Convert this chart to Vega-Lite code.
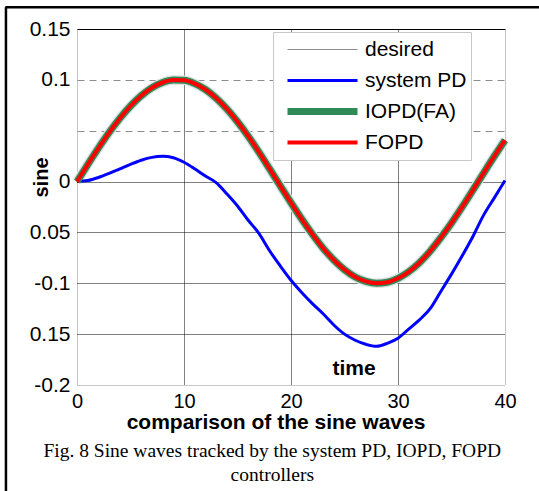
{
  "$schema": "https://vega.github.io/schema/vega-lite/v6.json",
  "width": 428,
  "height": 356,
  "autosize": "none",
  "padding": {"left": 77, "top": 29, "right": 34, "bottom": 106},
  "background": "white",
  "title": {
    "text": ["Fig. 8 Sine waves tracked by the system PD, IOPD, FOPD", "controllers"],
    "orient": "bottom",
    "anchor": "middle",
    "frame": "bounds",
    "font": "Liberation Serif",
    "fontSize": 19.5,
    "fontWeight": "normal",
    "color": "black",
    "lineHeight": 24,
    "baseline": "alphabetic",
    "offset": -41
  },
  "data": {
    "values": [
      {"t": 0, "desired": 0, "system PD": 0, "IOPD(FA)": 0, "FOPD": 0},
      {"t": 1, "desired": 0.0167, "system PD": 0.001, "IOPD(FA)": 0.0167, "FOPD": 0.0167},
      {"t": 2, "desired": 0.0329, "system PD": 0.004, "IOPD(FA)": 0.0329, "FOPD": 0.0329},
      {"t": 3, "desired": 0.0482, "system PD": 0.008, "IOPD(FA)": 0.0482, "FOPD": 0.0482},
      {"t": 4, "desired": 0.0621, "system PD": 0.0125, "IOPD(FA)": 0.0621, "FOPD": 0.0621},
      {"t": 5, "desired": 0.0743, "system PD": 0.017, "IOPD(FA)": 0.0743, "FOPD": 0.0743},
      {"t": 6, "desired": 0.0844, "system PD": 0.021, "IOPD(FA)": 0.0844, "FOPD": 0.0844},
      {"t": 7, "desired": 0.0922, "system PD": 0.0238, "IOPD(FA)": 0.0922, "FOPD": 0.0922},
      {"t": 8, "desired": 0.0974, "system PD": 0.0248, "IOPD(FA)": 0.0974, "FOPD": 0.0974},
      {"t": 9, "desired": 0.0998, "system PD": 0.0235, "IOPD(FA)": 0.0998, "FOPD": 0.0998},
      {"t": 10, "desired": 0.0995, "system PD": 0.019, "IOPD(FA)": 0.0995, "FOPD": 0.0995},
      {"t": 11, "desired": 0.0963, "system PD": 0.0125, "IOPD(FA)": 0.0963, "FOPD": 0.0963},
      {"t": 12, "desired": 0.0905, "system PD": 0.0055, "IOPD(FA)": 0.0905, "FOPD": 0.0905},
      {"t": 13, "desired": 0.0821, "system PD": -0.001, "IOPD(FA)": 0.0821, "FOPD": 0.0821},
      {"t": 14, "desired": 0.0714, "system PD": -0.012, "IOPD(FA)": 0.0714, "FOPD": 0.0714},
      {"t": 15, "desired": 0.0588, "system PD": -0.024, "IOPD(FA)": 0.0588, "FOPD": 0.0588},
      {"t": 16, "desired": 0.0446, "system PD": -0.038, "IOPD(FA)": 0.0446, "FOPD": 0.0446},
      {"t": 17, "desired": 0.029, "system PD": -0.051, "IOPD(FA)": 0.029, "FOPD": 0.029},
      {"t": 18, "desired": 0.0125, "system PD": -0.068, "IOPD(FA)": 0.0125, "FOPD": 0.0125},
      {"t": 19, "desired": -0.0042, "system PD": -0.083, "IOPD(FA)": -0.0042, "FOPD": -0.0042},
      {"t": 20, "desired": -0.0208, "system PD": -0.097, "IOPD(FA)": -0.0208, "FOPD": -0.0208},
      {"t": 21, "desired": -0.0368, "system PD": -0.109, "IOPD(FA)": -0.0368, "FOPD": -0.0368},
      {"t": 22, "desired": -0.0518, "system PD": -0.12, "IOPD(FA)": -0.0518, "FOPD": -0.0518},
      {"t": 23, "desired": -0.0655, "system PD": -0.13, "IOPD(FA)": -0.0655, "FOPD": -0.0655},
      {"t": 24, "desired": -0.0771, "system PD": -0.141, "IOPD(FA)": -0.0771, "FOPD": -0.0771},
      {"t": 25, "desired": -0.0866, "system PD": -0.15, "IOPD(FA)": -0.0866, "FOPD": -0.0866},
      {"t": 26, "desired": -0.0938, "system PD": -0.156, "IOPD(FA)": -0.0938, "FOPD": -0.0938},
      {"t": 27, "desired": -0.0982, "system PD": -0.16, "IOPD(FA)": -0.0982, "FOPD": -0.0982},
      {"t": 28, "desired": -0.1, "system PD": -0.162, "IOPD(FA)": -0.1, "FOPD": -0.1},
      {"t": 29, "desired": -0.099, "system PD": -0.159, "IOPD(FA)": -0.099, "FOPD": -0.099},
      {"t": 30, "desired": -0.0951, "system PD": -0.154, "IOPD(FA)": -0.0951, "FOPD": -0.0951},
      {"t": 31, "desired": -0.0887, "system PD": -0.145, "IOPD(FA)": -0.0887, "FOPD": -0.0887},
      {"t": 32, "desired": -0.0798, "system PD": -0.136, "IOPD(FA)": -0.0798, "FOPD": -0.0798},
      {"t": 33, "desired": -0.0685, "system PD": -0.125, "IOPD(FA)": -0.0685, "FOPD": -0.0685},
      {"t": 34, "desired": -0.0552, "system PD": -0.108, "IOPD(FA)": -0.0552, "FOPD": -0.0552},
      {"t": 35, "desired": -0.0407, "system PD": -0.091, "IOPD(FA)": -0.0407, "FOPD": -0.0407},
      {"t": 36, "desired": -0.0249, "system PD": -0.073, "IOPD(FA)": -0.0249, "FOPD": -0.0249},
      {"t": 37, "desired": -0.0084, "system PD": -0.054, "IOPD(FA)": -0.0084, "FOPD": -0.0084},
      {"t": 38, "desired": 0.0084, "system PD": -0.033, "IOPD(FA)": 0.0084, "FOPD": 0.0084},
      {"t": 39, "desired": 0.0249, "system PD": -0.016, "IOPD(FA)": 0.0249, "FOPD": 0.0249},
      {"t": 40, "desired": 0.0407, "system PD": 0.001, "IOPD(FA)": 0.0407, "FOPD": 0.0407}
    ]
  },
  "layer": [
    {
      "mark": {"type": "line", "color": "#dedede", "strokeWidth": 9.5, "interpolate": "monotone"},
      "encoding": {
        "x": {
          "field": "t", "type": "quantitative",
          "scale": {"domain": [0, 40], "nice": false, "zero": false},
          "axis": {
            "title": "comparison of the sine waves",
            "values": [0, 10, 20, 30, 40],
            "format": "d",
            "labelFont": "Liberation Sans", "labelFontSize": 20, "labelColor": "black",
            "labelPadding": 6, "labelFlush": false, "labelOverlap": false,
            "ticks": false, "tickSize": 0, "domain": false,
            "grid": true, "gridOpacity": 1, "gridWidth": 1,
            "gridColor": {"condition": {"test": "datum.value < 1 || datum.value > 39", "value": "#8c8c8c"}, "value": "#000000"},
            "gridDash": [1, 1],
            "titleFont": "Liberation Sans", "titleFontSize": 21, "titleFontWeight": "bold", "titleColor": "black",
            "titleX": 198.5, "titleY": 43, "titleBaseline": "alphabetic", "titleAlign": "center"
          }
        },
        "y": {
          "field": "desired", "type": "quantitative",
          "scale": {"domain": [-0.2, 0.15], "nice": false, "zero": false},
          "axis": {
            "title": "sine",
            "values": [0.15, 0.1, 0.05, 0, -0.05, -0.1, -0.15, -0.2],
            "labelExpr": "datum.value == 0.05 ? '' : datum.value == -0.05 ? '0.05' : datum.value == -0.15 ? '0.15' : '' + datum.value",
            "labelFont": "Liberation Sans", "labelFontSize": 21, "labelColor": "black",
            "labelPadding": 7, "labelOverlap": false,
            "ticks": false, "tickSize": 0, "domain": false,
            "grid": true, "gridOpacity": 1, "gridWidth": 1,
            "gridColor": {"condition": [{"test": "datum.value > 0.12", "value": "#000000"}, {"test": "datum.value > 0.02 || datum.value < -0.18", "value": "#8c8c8c"}], "value": "#000000"},
            "gridDash": {"condition": [{"test": "datum.value > 0.12", "value": []}, {"test": "datum.value > 0.02", "value": [7, 5]}], "value": [1, 1]},
            "titleFont": "Liberation Sans", "titleFontSize": 20, "titleFontWeight": "bold", "titleColor": "black",
            "titleX": -30, "titleY": 148, "titleAngle": -90, "titleAlign": "center", "titleBaseline": "alphabetic"
          }
        }
      }
    },
    {
      "transform": [{"fold": ["desired", "system PD", "IOPD(FA)", "FOPD"], "as": ["series", "value"]}],
      "mark": {"type": "line", "interpolate": "monotone"},
      "encoding": {
        "x": {"field": "t", "type": "quantitative"},
        "y": {"field": "value", "type": "quantitative"},
        "color": {"field": "series", "type": "nominal",
          "scale": {"domain": ["desired", "system PD", "IOPD(FA)", "FOPD"], "range": ["#8c8c8c", "#0000ff", "#2e8b57", "#ff0000"]},
          "legend": {"title": null, "symbolType": "M-3.5,0H3.5"}},
        "strokeWidth": {"field": "series", "type": "nominal",
          "scale": {"type": "ordinal", "domain": ["desired", "system PD", "IOPD(FA)", "FOPD"], "range": [1, 3, 7, 4]},
          "legend": {"title": null, "symbolType": "M-3.5,0H3.5"}}
      }
    },
    {
      "data": {"values": [{"label": "time"}]},
      "mark": {"type": "text", "font": "Liberation Sans", "fontSize": 21, "fontWeight": "bold", "align": "center", "baseline": "alphabetic", "color": "black"},
      "encoding": {
        "x": {"datum": 25.9, "type": "quantitative"},
        "y": {"datum": -0.1902, "type": "quantitative"},
        "text": {"field": "label"}
      }
    },
    {
      "data": {"values": [{}]},
      "mark": {"type": "rule", "color": "black", "strokeWidth": 2.5},
      "encoding": {
        "x": {"datum": -6.7, "type": "quantitative"},
        "x2": {"datum": 43.2},
        "y": {"datum": 0.1713, "type": "quantitative"}
      }
    },
    {
      "data": {"values": [{}]},
      "mark": {"type": "rule", "color": "black", "strokeWidth": 2.5},
      "encoding": {
        "x": {"datum": -6.64, "type": "quantitative"},
        "y": {"datum": 0.1713, "type": "quantitative"},
        "y2": {"datum": -0.31}
      }
    }
  ],
  "config": {
    "view": {"stroke": null},
    "font": "Liberation Sans",
    "legend": {
      "orient": "none",
      "legendX": 196,
      "legendY": 3,
      "padding": 4,
      "strokeColor": "#c8c8c8",
      "fillColor": "white",
      "labelFont": "Liberation Sans",
      "labelFontSize": 21,
      "labelColor": "black",
      "symbolSize": 400,
      "symbolOffset": 32,
      "labelOffset": 29,
      "clipHeight": 27,
      "rowPadding": 4
    }
  }
}
